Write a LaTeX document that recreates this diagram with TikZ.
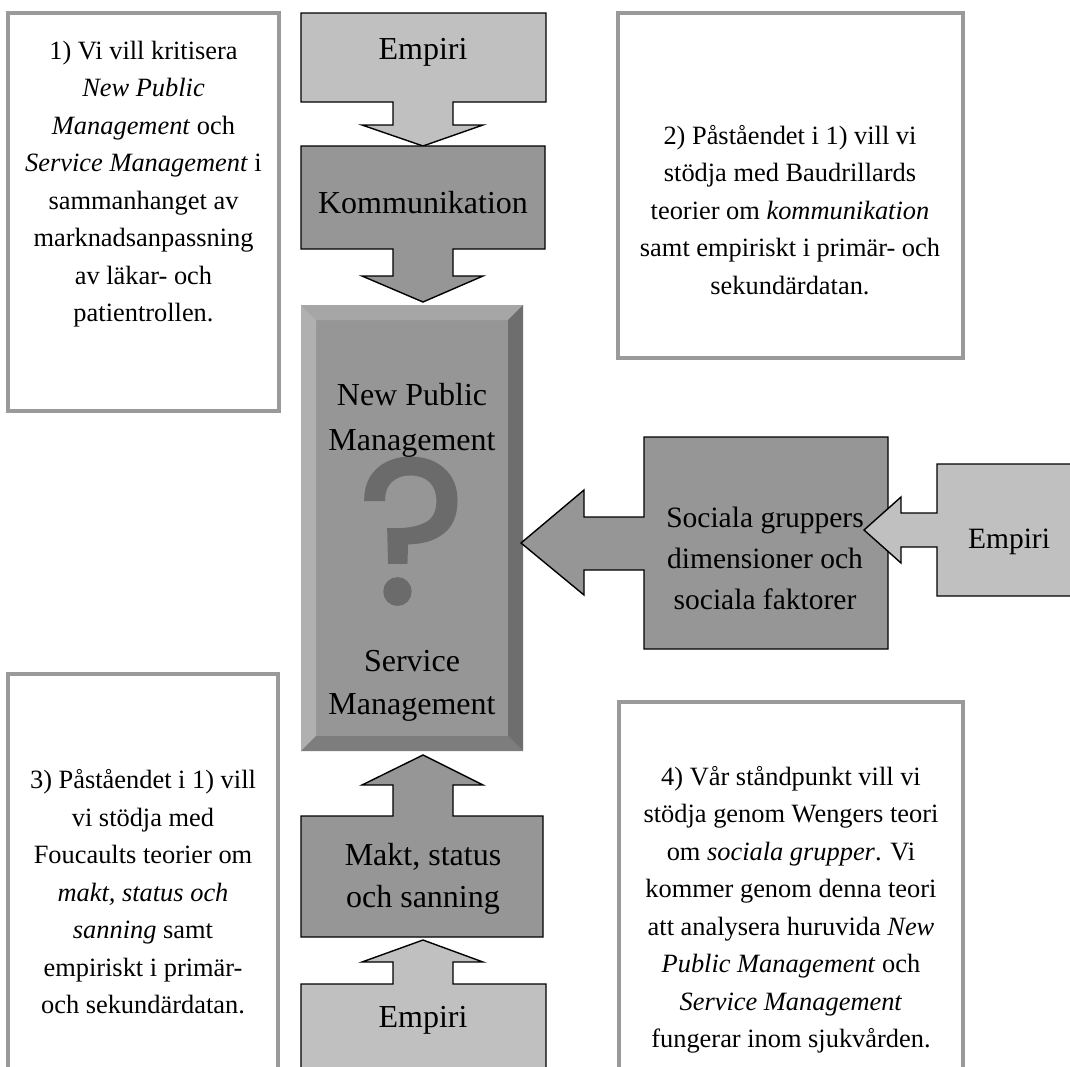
\documentclass[tikz,border=0pt]{standalone}
\usepackage{fontspec}
\setmainfont{Liberation Serif}
\newfontfamily\qfont{Poppins}[FakeBold=1.6]
\definecolor{lightcall}{HTML}{C0C0C0}
\definecolor{darkcall}{HTML}{969696}
\definecolor{frame}{HTML}{9A9A9A}
\definecolor{bevtop}{HTML}{A6A6A6}
\definecolor{bevleft}{HTML}{B0B0B0}
\definecolor{bevright}{HTML}{6E6E6E}
\definecolor{bevbottom}{HTML}{7D7D7D}
\definecolor{qmark}{HTML}{6B6B6B}
\tikzset{
  infobox/.style={draw=frame, line width=3.5pt, fill=white},
  infotext/.style={font=\fontsize{26.4}{37.5}\selectfont, align=center, inner sep=0pt},
  callout/.style={draw=black, line width=1.4pt, line join=miter},
  lightbox/.style={callout, fill=lightcall},
  darkbox/.style={callout, fill=darkcall},
  calltext/.style={font=\fontsize{32}{42}\selectfont, align=center, inner sep=0pt},
  sidetext/.style={font=\fontsize{29.5}{41}\selectfont, align=center, inner sep=0pt}
}
\begin{document}
\begin{tikzpicture}[x=1pt,y=-1pt]
\useasboundingbox (0,0) rectangle (1070,1066);
\clip (0,0) rectangle (1070,1066);
\fill[white] (0,0) rectangle (1070,1066);

% ---------- info boxes ----------
\draw[infobox] (8,13) rectangle (279,411);
\node[infotext] (t1) at (143.5,184) {1) Vi vill kritisera\\ \textit{New Public}\\ \textit{Management} och\\ \textit{Service Management} i\\ sammanhanget av\\ marknadsanpassning\\ av läkar- och\\ patientrollen.};

\draw[infobox] (618,13) rectangle (963,358);
\node[infotext] (t2) at (790,210) {2) Påståendet i 1) vill vi\\ stödja med Baudrillards\\ teorier om \textit{kommunikation}\\ samt empiriskt i primär- och\\ sekundärdatan.};

\draw[infobox] (8,674) rectangle (278,1120);
\node[infotext] (t3) at (143,892) {3) Påståendet i 1) vill\\ vi stödja med\\ Foucaults teorier om\\ \textit{makt, status och}\\ \textit{sanning} samt\\ empiriskt i primär-\\ och sekundärdatan.};

\draw[infobox] (619,702) rectangle (963,1120);
\node[infotext] (t4) at (791,910) {4) Vår ståndpunkt vill vi\\ stödja genom Wengers teori\\ om \textit{sociala grupper}. Vi\\ kommer genom denna teori\\ att analysera huruvida \textit{New}\\ \textit{Public Management} och\\ \textit{Service Management}\\ fungerar inom sjukvården.};

% ---------- central bevelled box ----------
\fill[darkcall] (301,305) rectangle (523,751);
\fill[bevtop] (301,305) -- (523,305) -- (508,320) -- (316,320) -- cycle;
\fill[bevleft] (301,305) -- (316,320) -- (316,736) -- (301,751) -- cycle;
\fill[bevright] (523,305) -- (523,751) -- (508,736) -- (508,320) -- cycle;
\fill[bevbottom] (301,751) -- (523,751) -- (508,736) -- (316,736) -- cycle;
\node[inner sep=0pt, anchor=base, text height=148pt, text depth=0pt, text=qmark, font=\qfont\fontsize{205}{205}\selectfont] (q) at (412,603) {?};
\node[calltext, font=\fontsize{32}{45}\selectfont] (npm) at (412,420) {New Public\\ Management};
\node[calltext, font=\fontsize{32}{43}\selectfont] (sm) at (412,686) {Service\\ Management};

% ---------- top callouts ----------
\draw[lightbox] (301,13) -- (546,13) -- (546,102) -- (453,102) -- (453,125) -- (483,125) -- (423,146) -- (362,125) -- (393,125) -- (393,102) -- (301,102) -- cycle;
\node[calltext] (emp1) at (423,52) {Empiri};

\draw[darkbox] (301,146) -- (545,146) -- (545,249) -- (453,249) -- (453,276) -- (483,276) -- (423,302) -- (362,276) -- (393,276) -- (393,249) -- (301,249) -- cycle;
\node[calltext] (komm) at (423,203) {Kommunikation};

% ---------- bottom callouts ----------
\draw[darkbox] (423,755) -- (483,785) -- (453,785) -- (453,816) -- (543,816) -- (543,937) -- (301,937) -- (301,816) -- (393,816) -- (393,785) -- (362,785) -- cycle;
\node[calltext] (makt) at (423,879) {Makt, status\\ och sanning};

\draw[lightbox] (423,940) -- (483,962) -- (453,962) -- (453,984) -- (546,984) -- (546,1120) -- (301,1120) -- (301,984) -- (393,984) -- (393,962) -- (362,962) -- cycle;
\node[calltext] (emp3) at (423,1020) {Empiri};

% ---------- right callouts ----------
\draw[darkbox] (521,543) -- (584,490) -- (584,517) -- (644,517) -- (644,437) -- (888,437) -- (888,649) -- (644,649) -- (644,570) -- (584,570) -- (584,595) -- cycle;
\node[sidetext] (soc) at (765,558) {Sociala gruppers\\ dimensioner och\\ sociala faktorer};

\draw[lightbox] (864,530) -- (901,497) -- (901,513) -- (937,513) -- (937,464) -- (1100,464) -- (1100,596) -- (937,596) -- (937,547) -- (901,547) -- (901,563) -- cycle;
\node[sidetext] (emp2) at (1009,542) {Empiri};
\end{tikzpicture}
\end{document}
